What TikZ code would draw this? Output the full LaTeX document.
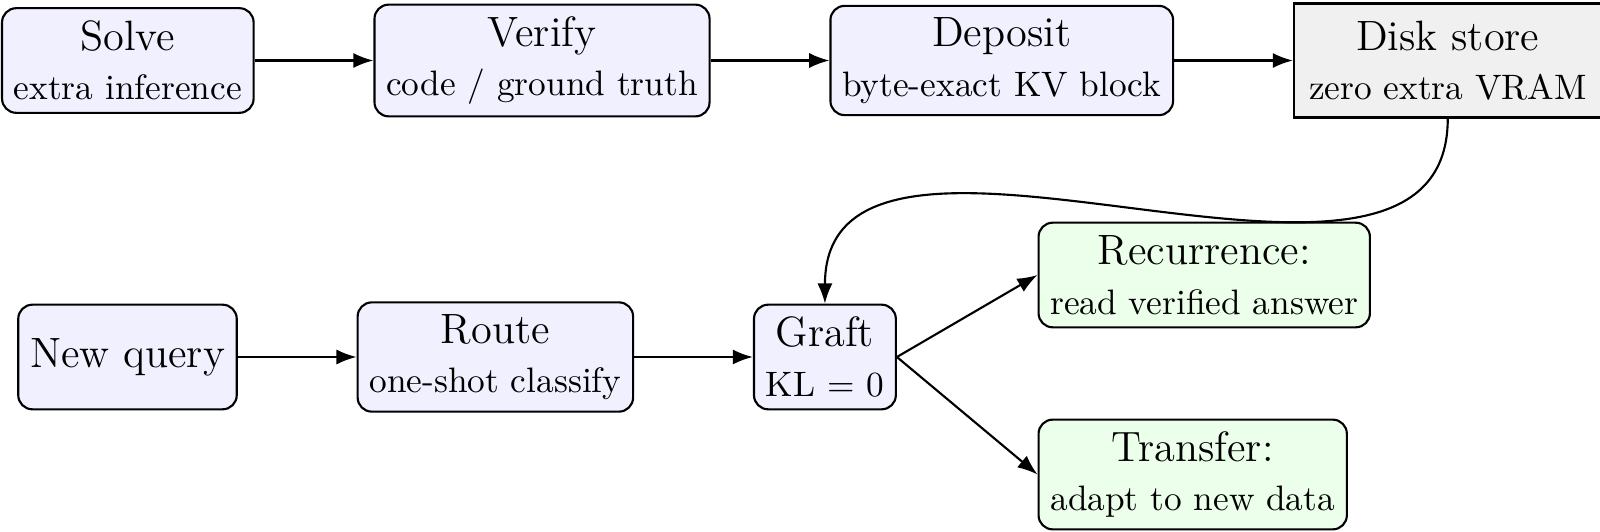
\documentclass[tikz,border=0pt]{standalone}
\usetikzlibrary{positioning,arrows.meta}
\begin{document}
\begin{tikzpicture}[x=0.2829pt,y=-0.2829pt, node distance=33.6pt,
  box/.style={draw, semithick, rounded corners=4pt, align=center, font=\large, minimum height=29.6pt, inner sep=3.33pt},
  proc/.style={box, fill=blue!6},
  outc/.style={box, fill=green!8},
  store/.style={draw, semithick, fill=gray!12, align=center, font=\large, inner xsep=4.25pt, inner ysep=4.85pt},
  arr/.style={semithick, -{Latex}}]
\useasboundingbox (0,0) rectangle (1600,532);
% top row
\node[proc, anchor=west] (solve) at (1,60.5) {Solve\\{\normalsize extra inference}};
\node[proc, right=of solve] (verify) {Verify\\{\normalsize code / ground truth}};
\node[proc, right=of verify] (deposit) {Deposit\\{\normalsize byte-exact KV block}};
\node[store, right=of deposit] (disk) {Disk store\\{\normalsize zero extra VRAM}};
% bottom row
\node[proc] (query) at (127.5,357) {New query};
\node[proc, right=of query] (route) {Route\\{\normalsize one-shot classify}};
\node[proc, right=of route] (graft) {Graft\\{\normalsize KL = 0}};
\node[outc, anchor=west] (recur) at (1037.5,275) {Recurrence:\\{\normalsize read verified answer}};
\node[outc, anchor=west] (transfer) at (1037.5,474.5) {Transfer:\\{\normalsize adapt to new data}};
% connectors
\draw[arr] (solve) -- (verify);
\draw[arr] (verify) -- (deposit);
\draw[arr] (deposit) -- (disk);
\draw[arr] (query) -- (route);
\draw[arr] (route) -- (graft);
\draw[arr] (disk.south) to[out=-90, in=90] (graft.north);
\draw[arr] (graft.east) -- (recur.west);
\draw[arr] (graft.east) -- (transfer.west);
\end{tikzpicture}
\end{document}
